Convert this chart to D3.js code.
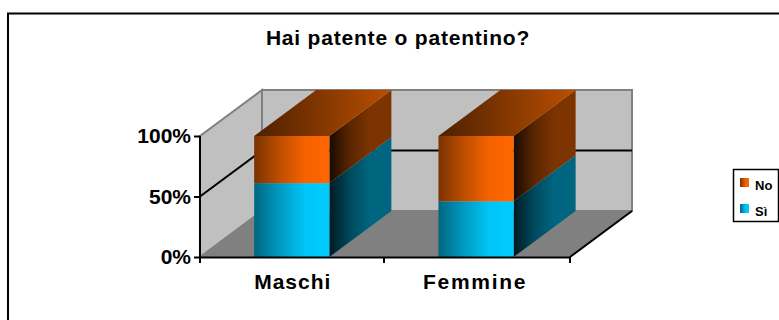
<!DOCTYPE html>
<html><head><meta charset="utf-8">
<script src="https://cdn.jsdelivr.net/npm/d3@7"></script>
<style>html,body{margin:0;padding:0;background:#fff}svg{display:block}text{font-family:"Liberation Sans",Arial,sans-serif;font-weight:bold;fill:#000}</style>
</head><body><svg id="c" width="779" height="320"></svg>
<script>
const categories = ["Maschi", "Femmine"];
const seriesSi = [61, 46];
const seriesNo = [39, 54];
const yTicks = [0, 50, 100];
const legendLabels = ["No", "Sì"];
const title = "Hai patente o patentino?";

const svg = d3.select("#c");
const dx = 62, dy = -46;
const y = d3.scaleLinear().domain([0, 100]).range([257, 136]);
const x = d3.scaleBand().domain(categories).range([200, 570]).paddingInner(0.592).paddingOuter(0.3).align(0.49);
const yMid = y(50);

const defs = svg.append("defs");
function grad(id, stops) {
  const g = defs.append("linearGradient").attr("id", id).attr("x1", 0).attr("x2", 1).attr("y1", 0).attr("y2", 0);
  stops.forEach((c, i) => g.append("stop").attr("offset", i / (stops.length - 1)).attr("stop-color", c));
}
grad("oF", ["#7a3300", "#bc4d00", "#f56200", "#ff6600"]);
grad("oT", ["#4d2000", "#bb4f00"]);
grad("oS", ["#1a0a00", "#5a2600", "#7d3400", "#7d3400"]);
grad("bF", ["#006680", "#0099c0", "#00c4f5", "#00ccff"]);
grad("bS", ["#001a20", "#004a5e", "#006680", "#006680"]);

const poly = pts => pts.map(p => p.join(",")).join(" ");
const x0 = x.range()[0], x1 = x.range()[1], y0 = y(0), yT = y(100);

// frame
svg.append("path").attr("d", "M8,320V13.5H779").attr("fill", "none").attr("stroke", "#000").attr("stroke-width", 2);

// walls and floor
svg.append("polygon").attr("points", poly([[x0, y0], [x0 + dx, y0 + dy], [x0 + dx, yT + dy], [x0, yT]]))
  .attr("fill", "#c0c0c0").attr("stroke", "#808080").attr("stroke-width", 2);
svg.append("polygon").attr("points", poly([[x0 + dx, y0 + dy], [x1 + dx, y0 + dy], [x1 + dx, yT + dy], [x0 + dx, yT + dy]]))
  .attr("fill", "#c0c0c0").attr("stroke", "#808080").attr("stroke-width", 2);
svg.append("polygon").attr("points", poly([[x0, y0], [x1, y0], [x1 + dx, y0 + dy], [x0 + dx, y0 + dy]]))
  .attr("fill", "#808080").attr("stroke", "#808080");
// 50% gridline
svg.append("polyline").attr("points", poly([[x0, yMid], [x0 + dx, yMid + dy], [x1 + dx, yMid + dy]]))
  .attr("fill", "none").attr("stroke", "#000").attr("stroke-width", 2);
// floor front-right edge
svg.append("line").attr("x1", x1).attr("y1", y0).attr("x2", x1 + dx).attr("y2", y0 + dy).attr("stroke", "#000").attr("stroke-width", 2);

// bars
function segment(g, cat, from, to, front, top, side) {
  const a = x(cat), b = a + x.bandwidth(), t = y(to), u = y(from);
  g.append("polygon").attr("points", poly([[b, u], [b + dx, u + dy], [b + dx, t + dy], [b, t]])).attr("fill", `url(#${side})`);
  if (top) g.append("polygon").attr("points", poly([[a, t], [b, t], [b + dx, t + dy], [a + dx, t + dy]])).attr("fill", `url(#${top})`);
  g.append("rect").attr("x", a).attr("y", t).attr("width", b - a).attr("height", u - t).attr("fill", `url(#${front})`);
}
categories.forEach((c, i) => {
  const g = svg.append("g");
  segment(g, c, 0, seriesSi[i], "bF", null, "bS");
  segment(g, c, seriesSi[i], seriesSi[i] + seriesNo[i], "oF", "oT", "oS");
});

// axes
const axisX = d3.axisBottom(x).tickSize(0).tickPadding(17).tickFormat(d => d);
const gx = svg.append("g").attr("transform", `translate(0,${y0})`).call(axisX);
gx.select(".domain").attr("stroke", "#000").attr("stroke-width", 2);
gx.selectAll("text").attr("font-size", 21)
  .attr("letter-spacing", (d, i) => i ? 1.7 : 1).attr("dx", (d, i) => i ? -1 : 1)
  .style("font-family", '"Liberation Sans"');
const edges = [x0, (x0 + x1) / 2 - 1, x1];
svg.selectAll(".xt").data(edges).enter().append("line").attr("x1", d => d).attr("x2", d => d).attr("y1", y0).attr("y2", y0 + 6).attr("stroke", "#000").attr("stroke-width", 2);

const axisY = d3.axisLeft(y).tickValues(yTicks).tickSize(6).tickPadding(3).tickFormat(d => d + "%");
const gy = svg.append("g").attr("transform", `translate(${x0},0)`).call(axisY);
gy.select(".domain").attr("stroke", "#000").attr("stroke-width", 2).attr("d", `M0,${yT}V${y0}`);
gy.selectAll(".tick line").attr("stroke", "#000").attr("stroke-width", 2);
gy.selectAll("text").attr("font-size", 21).style("font-family", '"Liberation Sans"');

// title
svg.append("text").attr("x", 398).attr("y", 45).attr("text-anchor", "middle").attr("font-size", 21).attr("letter-spacing", 0.8).text(title);

// legend
const lg = svg.append("g");
lg.append("rect").attr("x", 733.5).attr("y", 169.5).attr("width", 45).attr("height", 52).attr("fill", "#fff").attr("stroke", "#000").attr("stroke-width", 1.5);
legendLabels.forEach((l, i) => {
  const yy = 178 + i * 26;
  lg.append("rect").attr("x", 740).attr("y", yy).attr("width", 9).attr("height", 9).attr("fill", i ? "url(#bF)" : "url(#oF)");
  lg.append("text").attr("x", 755).attr("y", yy + 12).attr("font-size", 13).text(l);
});
</script></body></html>
